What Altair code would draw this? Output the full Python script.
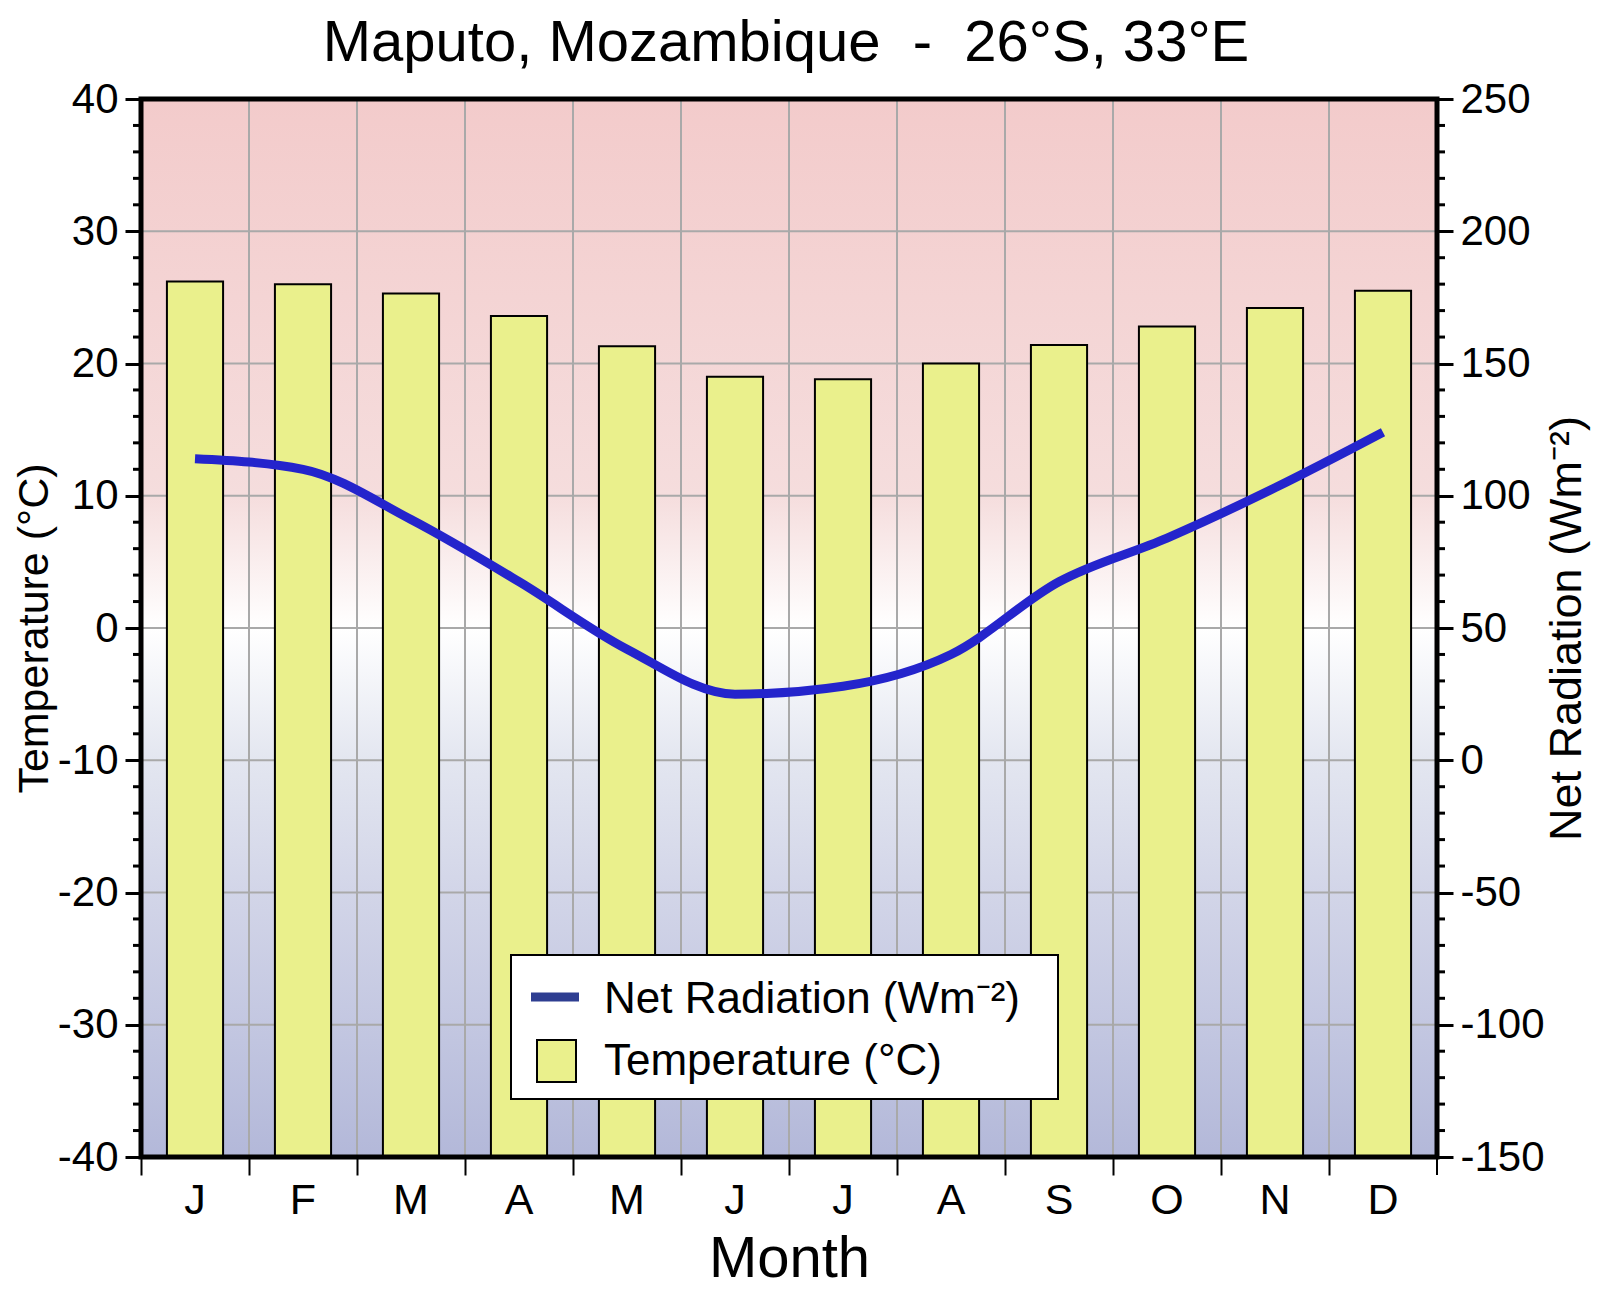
import altair as alt
import pandas as pd

# ---------------- data ----------------
months = ["Jan", "Feb", "Mar", "Apr", "May", "Jun", "Jul", "Aug", "Sep", "Oct", "Nov", "Dec"]
temperature = [26.2, 26.0, 25.3, 23.6, 21.3, 19.0, 18.8, 20.0, 21.4, 22.8, 24.2, 25.5]
net_radiation = [114, 110, 91, 67.5, 42, 25, 28, 40, 67.5, 84, 103, 124]

temp_ticks = [-40, -30, -20, -10, 0, 10, 20, 30, 40]
temp_minor = [v for v in range(-38, 40, 2) if v % 10 != 0]
rad_ticks = [-150, -100, -50, 0, 50, 100, 150, 200, 250]
rad_minor = [v for v in range(-140, 250, 10) if v % 50 != 0]

title_text = "Maputo, Mozambique \u00a0-\u00a0 26°S, 33°E"
temp_title = "Temperature (°C)"
rad_title = "Net Radiation (Wm⁻²)"

# ---------------- layout / style ----------------
W, H = 1296, 1058
FONT = "Liberation Sans"
BAR_FILL = "#EAF08C"
LINE_COLOR = "#2424CC"
GRID = "#A9A9A9"

main = pd.DataFrame({"month": months, "temp": temperature, "rad": net_radiation})
one = pd.DataFrame({"a": [0]})

xscale = alt.Scale(domain=months, paddingInner=0, paddingOuter=0)
xaxis = alt.Axis(
    bandPosition=0, tickSize=18, tickWidth=2, tickColor="black",
    domain=False, grid=False, labelExpr="substring(datum.value, 0, 1)",
    labelFontSize=43, labelPadding=4, labelColor="black", labelAngle=0,
    titleFontSize=58, titleFontWeight="normal", titleColor="black",
    titleY=119, titleBaseline="alphabetic",
)
x_enc = alt.X("month:N", scale=xscale, axis=xaxis, title="Month")

tscale = alt.Scale(domain=[-40, 40], nice=False, zero=False)
rscale = alt.Scale(domain=[-150, 250], nice=False, zero=False)

left_axis = alt.Axis(
    orient="left", values=temp_ticks, tickSize=16, tickWidth=3, tickColor="black",
    domain=False, grid=False, labelFontSize=42, labelPadding=7, labelColor="black",
    labelExpr="'' + datum.value",
    titleFontSize=43, titleFontWeight="normal", titleColor="black",
    titleAngle=270, titleX=-94, titleY=H / 2, titleAlign="center", titleBaseline="alphabetic",
)
right_axis = alt.Axis(
    orient="right", values=rad_ticks, tickSize=16, tickWidth=3, tickColor="black",
    domain=False, grid=False, labelFontSize=42, labelPadding=7, labelColor="black",
    labelExpr="'' + datum.value",
    titleFontSize=45, titleFontWeight="normal", titleColor="black",
    titleAngle=270, titleX=143, titleY=H / 2, titleAlign="center", titleBaseline="alphabetic",
)

gradient = alt.LinearGradient(
    gradient="linear", x1=0, x2=0, y1=0, y2=1,
    stops=[
        alt.GradientStop(offset=0.0, color="#F3CBCB"),
        alt.GradientStop(offset=0.375, color="#F5DDDD"),
        alt.GradientStop(offset=0.5, color="#FFFFFF"),
        alt.GradientStop(offset=0.625, color="#E3E6F0"),
        alt.GradientStop(offset=0.75, color="#D2D5E8"),
        alt.GradientStop(offset=0.875, color="#C3C7E1"),
        alt.GradientStop(offset=1.0, color="#B3B8D9"),
    ],
)

background = alt.Chart(one).mark_rect(fill=gradient, strokeWidth=0).encode(
    x=alt.value(0), x2=alt.value(W), y=alt.value(0), y2=alt.value(H)
)

grid_v = alt.Chart(pd.DataFrame({"month": months[1:]})).mark_rule(color=GRID, strokeWidth=2).encode(
    x=alt.X("month:N", bandPosition=0, scale=xscale, axis=xaxis, title="Month")
)

grid_h = alt.Chart(pd.DataFrame({"v": temp_ticks[1:-1]})).mark_rule(color=GRID, strokeWidth=2).encode(
    y=alt.Y("v:Q", scale=tscale, axis=None)
)

bars = alt.Chart(main).mark_bar(
    fill=BAR_FILL, stroke="black", strokeWidth=2, width=alt.RelativeBandSize(0.52)
).encode(
    x=x_enc,
    y=alt.Y("temp:Q", scale=tscale, axis=left_axis, title=temp_title),
    y2=alt.datum(-40),
)

minor_left = alt.Chart(pd.DataFrame({"v": temp_minor})).mark_rule(color="black", strokeWidth=3).encode(
    y=alt.Y("v:Q", scale=tscale, axis=None), x=alt.value(-8), x2=alt.value(0)
)

line = alt.Chart(main).mark_line(
    color=LINE_COLOR, strokeWidth=9, interpolate="monotone"
).encode(
    x=x_enc,
    y=alt.Y("rad:Q", scale=rscale, axis=right_axis, title=rad_title),
)

minor_right = alt.Chart(pd.DataFrame({"v": rad_minor})).mark_rule(color="black", strokeWidth=3).encode(
    y=alt.Y("v:Q", scale=rscale, axis=None), x=alt.value(W), x2=alt.value(W + 8)
)

end_tick = alt.Chart(one).mark_rule(color="black", strokeWidth=2).encode(
    x=alt.value(W), y=alt.value(H), y2=alt.value(H + 18)
)

frame = alt.Chart(one).mark_rect(fillOpacity=0, stroke="black", strokeWidth=5).encode(
    x=alt.value(0), x2=alt.value(W), y=alt.value(0), y2=alt.value(H)
)

# ---------------- title ----------------
title = alt.Chart(one).mark_text(
    align="center", baseline="alphabetic", fontSize=58, font=FONT, color="black"
).encode(x=alt.value(W / 2 - 3), y=alt.value(-38), text=alt.value(title_text))

# ---------------- legend ----------------
leg_box = alt.Chart(one).mark_rect(fill="white", stroke="black", strokeWidth=2).encode(
    x=alt.value(370), x2=alt.value(917), y=alt.value(856), y2=alt.value(1000)
)
leg_line = alt.Chart(one).mark_rule(color="#2E3E91", strokeWidth=9).encode(
    x=alt.value(390), x2=alt.value(438), y=alt.value(898)
)
leg_sq = alt.Chart(one).mark_rect(fill=BAR_FILL, stroke="black", strokeWidth=2).encode(
    x=alt.value(396), x2=alt.value(435), y=alt.value(941), y2=alt.value(983)
)
leg_t1 = alt.Chart(one).mark_text(
    align="left", baseline="alphabetic", fontSize=44, font=FONT, color="black"
).encode(x=alt.value(463), y=alt.value(914), text=alt.value(rad_title))
leg_t2 = alt.Chart(one).mark_text(
    align="left", baseline="alphabetic", fontSize=44, font=FONT, color="black"
).encode(x=alt.value(463), y=alt.value(976), text=alt.value(temp_title))

chart = alt.layer(
    background, grid_v, grid_h, bars, minor_left, line, minor_right, end_tick, frame,
    title, leg_box, leg_line, leg_sq, leg_t1, leg_t2,
).resolve_scale(
    y="independent"
).properties(
    width=W, height=H,
    autosize=alt.AutoSizeParams(type="none"),
    padding={"left": 133, "top": 91, "right": 155, "bottom": 131},
    background="white",
).configure(
    font=FONT
).configure_view(
    stroke=None
)

chart.save("out.html", embed_options={"renderer": "svg", "actions": False})
